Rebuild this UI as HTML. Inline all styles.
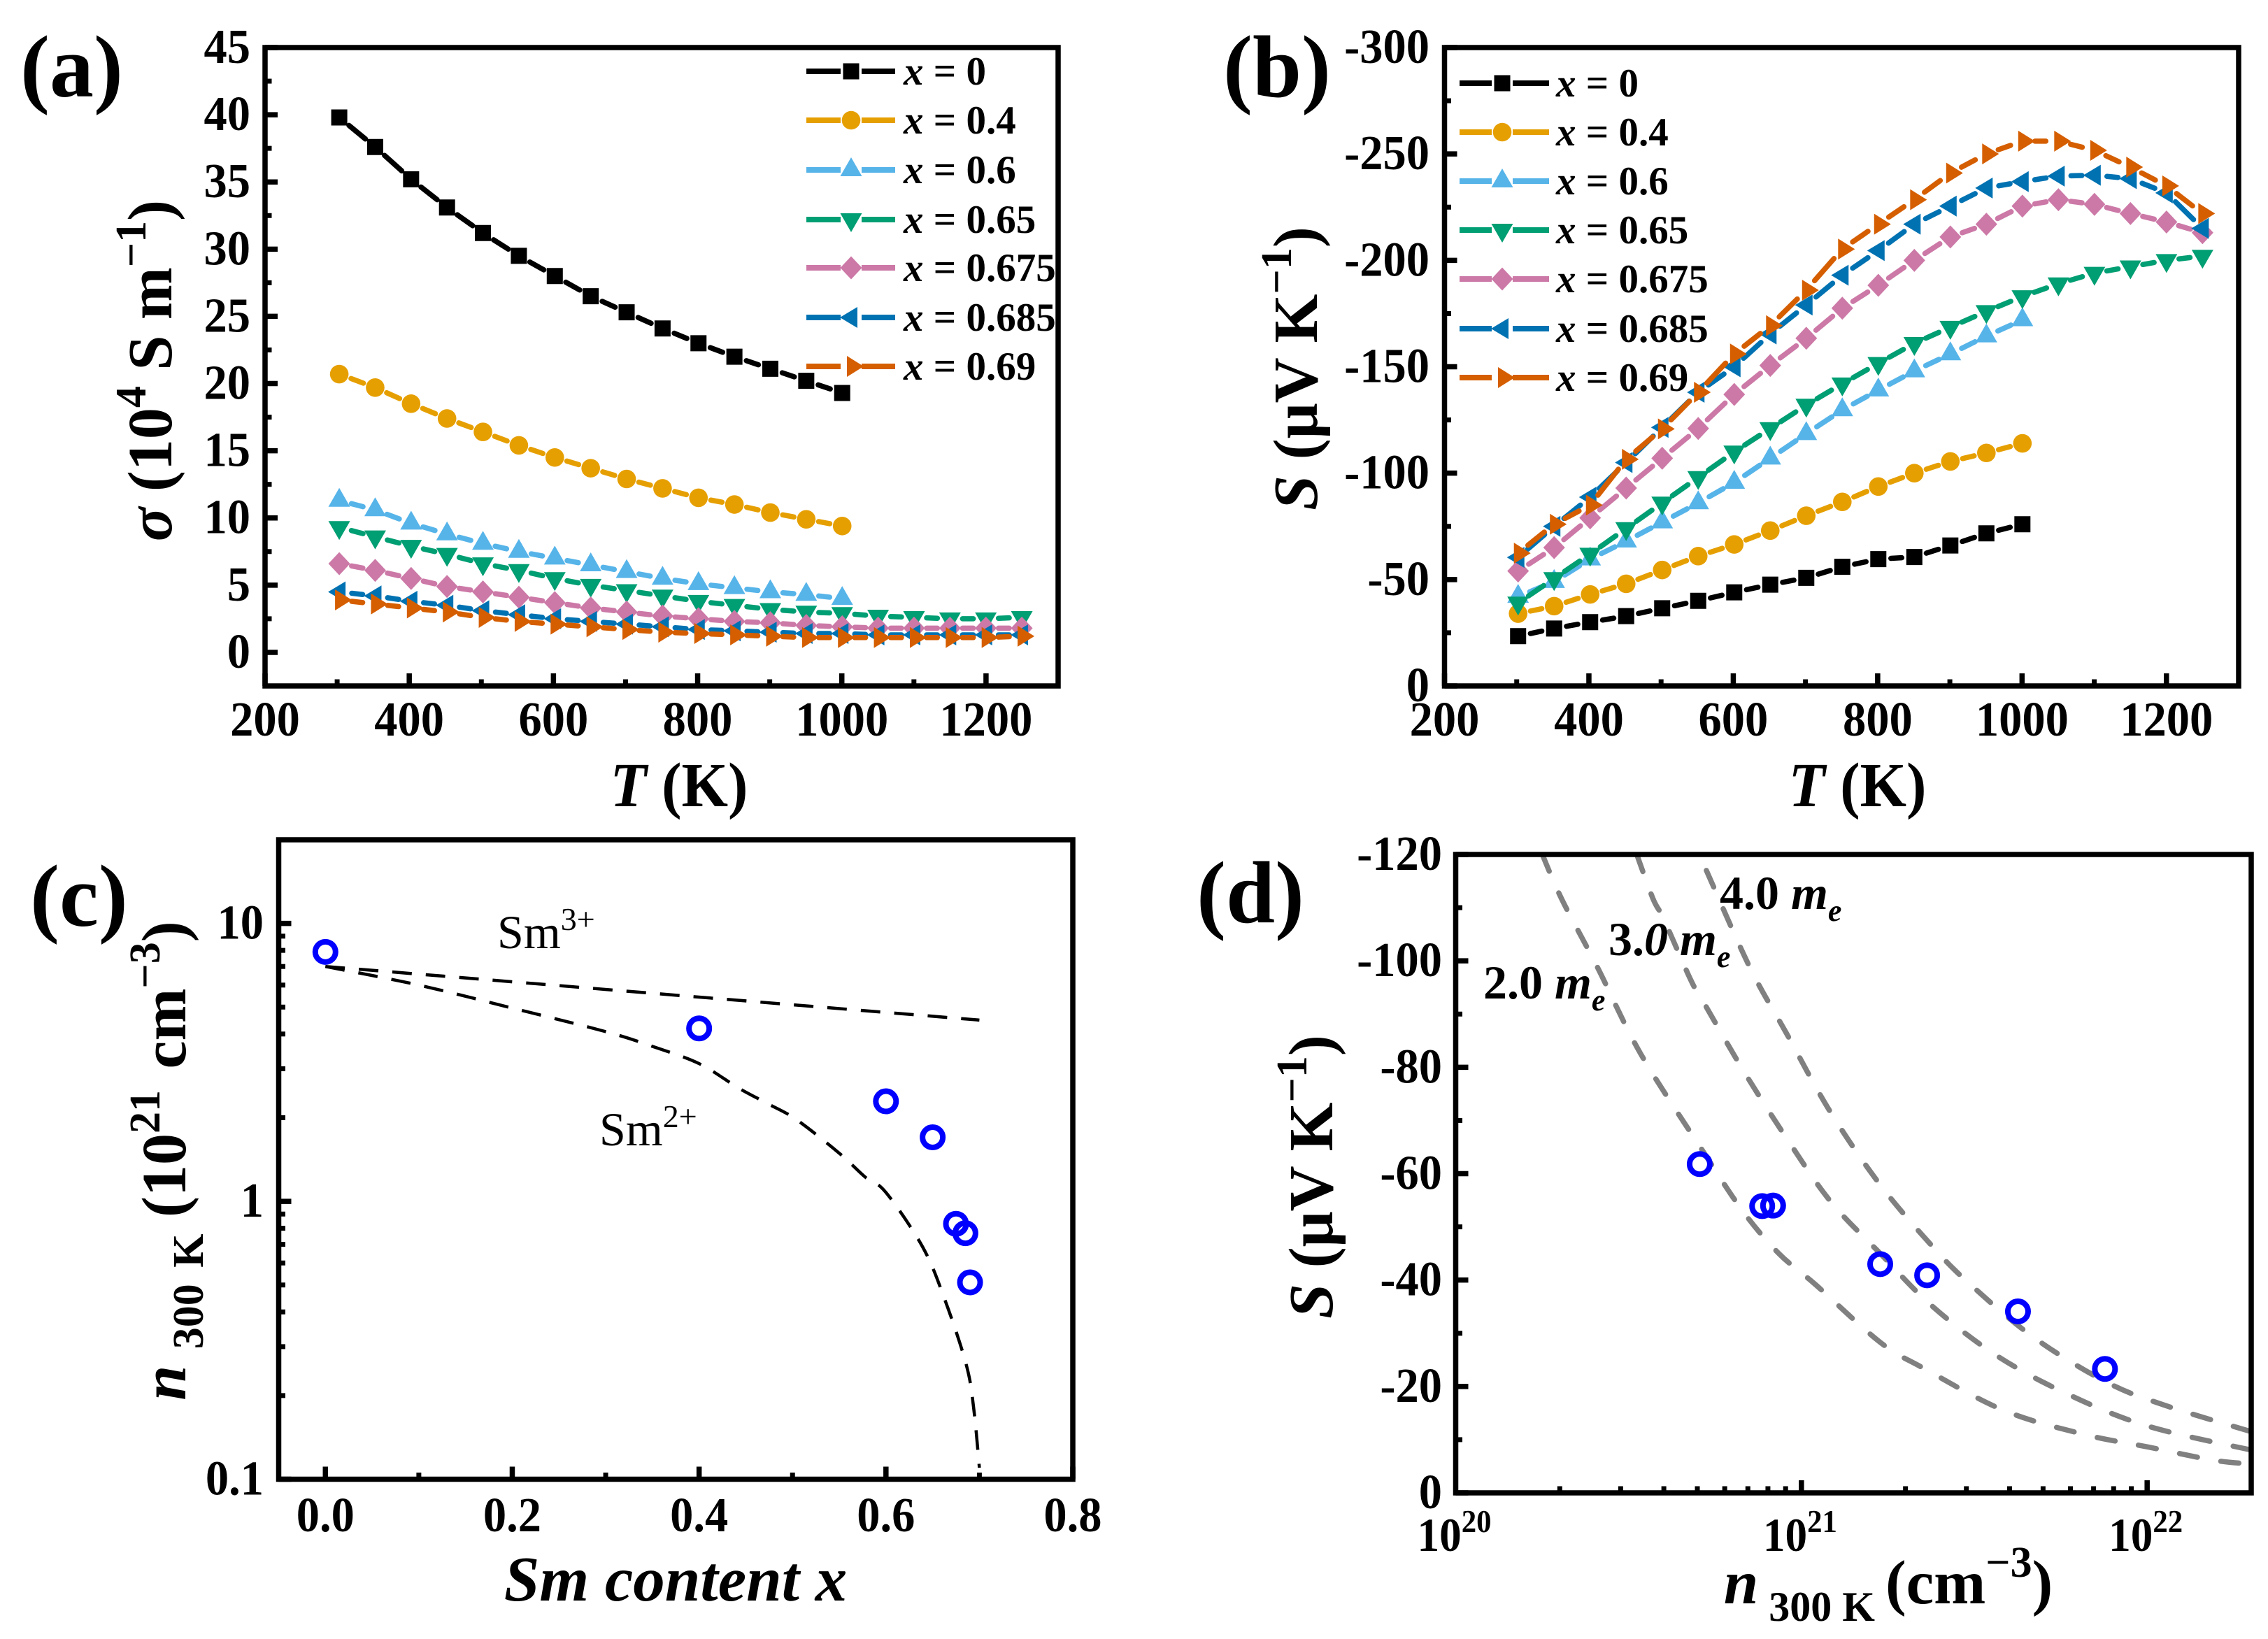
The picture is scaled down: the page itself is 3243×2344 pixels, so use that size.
<!DOCTYPE html>
<html lang="en">
<head>
<meta charset="utf-8">
<title>Sm content transport properties</title>
<style>
html,body{margin:0;padding:0;background:#fff;}
svg{display:block;font-family:"Liberation Serif",serif;font-weight:bold;fill:#000;}
.it{font-style:italic;}
.reg{font-weight:normal;}
</style>
</head>
<body>
<svg id="figure" xmlns="http://www.w3.org/2000/svg" width="3243" height="2344" viewBox="0 0 3243 2344">
  <rect width="3243" height="2344" fill="#fff"/>

  <text x="29" y="138" font-size="126">(a)</text>
  <text x="1749" y="138" font-size="126">(b)</text>
  <text x="43" y="1324" font-size="126">(c)</text>
  <text x="1711" y="1319" font-size="126">(d)</text>

  <text transform="translate(971,1153) scale(.95,1)" font-size="90" text-anchor="middle"><tspan class="it">T</tspan> (K)</text>
  <text transform="translate(2656,1153) scale(.95,1)" font-size="90" text-anchor="middle"><tspan class="it">T</tspan> (K)</text>
  <text x="966" y="2289" font-size="91" text-anchor="middle" class="it">Sm content x</text>
  <text x="2700" y="2293" font-size="89" text-anchor="middle"><tspan class="it">n</tspan><tspan font-size="60" dy="25"> 300 K </tspan><tspan dy="-25">(cm</tspan><tspan font-size="62" dy="-38">−3</tspan><tspan dy="38">)</tspan></text>

  <text transform="translate(245,530) rotate(-90)" font-size="90" text-anchor="middle"><tspan class="it">σ</tspan> (10<tspan font-size="62" dy="-37">4</tspan><tspan dy="37"> S m</tspan><tspan font-size="62" dy="-37">−1</tspan><tspan dy="37">)</tspan></text>
  <text transform="translate(1883,527) rotate(-90)" font-size="90" text-anchor="middle"><tspan class="it">S</tspan> (μV K<tspan font-size="62" dy="-37">−1</tspan><tspan dy="37">)</tspan></text>
  <text transform="translate(265,1660) rotate(-90)" font-size="90" text-anchor="middle" word-spacing="8"><tspan class="it">n</tspan><tspan font-size="62" dy="25"> 300 K </tspan><tspan dy="-25">(10</tspan><tspan font-size="62" dy="-37">21</tspan><tspan dy="37"> cm</tspan><tspan font-size="62" dy="-37">−3</tspan><tspan dy="37">)</tspan></text>
  <text transform="translate(1905,1683) rotate(-90)" font-size="90" text-anchor="middle"><tspan class="it">S</tspan> (μV K<tspan font-size="62" dy="-37">−1</tspan><tspan dy="37">)</tspan></text>

  <text x="711" y="1356" font-size="68" class="reg">Sm<tspan font-size="46" dy="-26">3+</tspan></text>
  <text x="857" y="1638" font-size="68" class="reg">Sm<tspan font-size="46" dy="-26">2+</tspan></text>
</svg>

<script>
// ---------- panel (a) and (b) shared temperatures ----------
const tempK = [300,350,400,450,500,550,600,650,700,750,800,850,900,950,1000,1050,1100,1150,1200,1250];
const compositionLabels = ['0','0.4','0.6','0.65','0.675','0.685','0.69'];

// ---------- panel (a): conductivity, 10^4 S/m ----------
const sigmaX0    = [39.8,37.6,35.2,33.1,31.2,29.5,28,26.5,25.3,24.1,23,22,21.1,20.2,19.3];
const sigmaX04   = [20.7,19.7,18.5,17.4,16.4,15.4,14.5,13.7,12.9,12.2,11.5,11,10.4,9.9,9.4];
const sigmaX06   = [11.3,10.6,9.6,8.8,8.1,7.5,7,6.5,6,5.5,5.1,4.8,4.5,4.3,4.0];
const sigmaX065  = [9.3,8.6,7.9,7.3,6.6,6.1,5.5,5,4.6,4.2,3.8,3.5,3.2,3.0,2.9,2.7,2.6,2.5,2.5,2.6];
const sigmaX0675 = [6.6,6.1,5.5,4.9,4.5,4.1,3.7,3.3,3.0,2.7,2.5,2.3,2.2,2.0,1.9,1.8,1.8,1.8,1.8,1.8];
const sigmaX0685 = [4.5,4.2,3.8,3.5,3.1,2.8,2.5,2.3,2.1,1.9,1.7,1.6,1.5,1.4,1.4,1.3,1.3,1.3,1.3,1.3];
const sigmaX069  = [3.9,3.6,3.3,3.0,2.6,2.3,2.1,1.9,1.7,1.5,1.4,1.3,1.2,1.1,1.1,1.1,1.1,1.1,1.1,1.2];
const sigmaTicks = [0,5,10,15,20,25,30,35,40,45];
const tempTicks  = [200,400,600,800,1000,1200];

// ---------- panel (b): Seebeck, uV/K ----------
const seebeckX0    = [-23.4,-27,-30,-32.8,-36.5,-40,-44,-47.6,-50.8,-56,-59.6,-60.6,-66,-71.7,-76];
const seebeckX04   = [-34,-37.5,-43,-48,-54.5,-61,-66.5,-73,-80,-86.5,-93.7,-100,-105.5,-109.5,-114];
const seebeckX06   = [-42,-49,-59.6,-68,-77,-86,-95.6,-107,-118.5,-129.7,-139,-148,-156,-164.4,-172];
const seebeckX065  = [-39,-50.5,-62,-74,-86,-98,-110,-121,-132,-142,-151.6,-161,-168.6,-176,-183,-189,-194,-197,-200,-202];
const seebeckX0675 = [-54,-65,-79,-93,-107,-121,-137,-150.6,-163.4,-177.5,-188.3,-200,-211,-217,-225.5,-228.5,-226.3,-222,-218,-213];
const seebeckX0685 = [-60.4,-75,-88.7,-105,-121.5,-138,-150,-165.4,-179,-193,-204.6,-217,-225.5,-234,-237,-239.6,-240,-238.4,-231.7,-215];
const seebeckX069  = [-62.4,-76,-85,-106.5,-120.8,-138,-156,-169.3,-186,-205.3,-217,-228.5,-241,-250,-256,-256,-251.7,-243.8,-235,-222];
const seebeckTicks = [0,-50,-100,-150,-200,-250,-300];

// ---------- panel (c): carrier density vs Sm content ----------
const smContent = [0,0.4,0.6,0.65,0.675,0.685,0.69];
const carrierDensity = [7.9,4.19,2.29,1.70,0.83,0.768,0.511];
const sm3CurveX = [0,0.7];
const sm3CurveN = [7.0,4.49];
const sm2CurveX = [0,0.1,0.2,0.3,0.349,0.4,0.442,0.473,0.504,0.55,0.5775,0.6,0.6395,0.663,0.686,0.694,0.7];
const sm2CurveN = [7.0,6.0,4.96,4.08,3.62,3.13,2.56,2.25,1.97,1.49,1.225,1.076,0.683,0.443,0.258,0.179,0.11];
const contentTicks = [0,0.2,0.4,0.6,0.8];
const densityTicks = [0.1,1,10];

// ---------- panel (d): Pisarenko plot; n in units of 10^20 cm^-3 ----------
const pisarenkoN = [5.08,7.7,8.28,16.9,23.1,42.3,75.5];
const pisarenkoS = [-61.8,-53.9,-54,-43,-40.9,-34.1,-23.3];
const mass2N = [1.78,2.03,2.57,3.43,5.18,6.76,8.6,10.96,16.9,22.6,38.5,65.6,101,157,205];
const mass2S = [-120,-111.5,-98.8,-82.5,-64.3,-53,-45,-39.2,-28.3,-23.4,-15.5,-11,-8.6,-6.1,-5.4];
const mass3N = [3.34,3.72,4.0,4.77,5.13,6.76,9.03,12.1,16.9,23.8,36.7,59.6,101,205];
const mass3S = [-120,-111.7,-107.8,-96.6,-93,-79.6,-66.8,-54.9,-45,-35.2,-25.8,-18.4,-12.5,-7.9];
const mass4N = [5.31,7.09,9.03,12.1,16.9,23.8,30.3,46.8,75.9,112,205];
const mass4S = [-117,-98.8,-86.5,-71.7,-57.9,-46.5,-39.6,-29.3,-20.9,-16.5,-11.3];
const pisarenkoSTicks = [0,-20,-40,-60,-80,-100,-120];

// ---------- drawing helpers ----------
const NS = 'http://www.w3.org/2000/svg';
const svg = document.getElementById('figure');
function make(tag, attrs, parent) {
  const node = document.createElementNS(NS, tag);
  for (const k in attrs) node.setAttribute(k, attrs[k]);
  parent.appendChild(node);
  return node;
}
function linear(d0, d1, r0, r1) { return v => r0 + (v - d0) * (r1 - r0) / (d1 - d0); }
function logarithmic(d0, d1, r0, r1) { return v => r0 + (Math.log10(v) - Math.log10(d0)) * (r1 - r0) / (Math.log10(d1) - Math.log10(d0)); }

function drawTick(parent, x1, y1, x2, y2, w, name) {
  const t = make('line', {x1, y1, x2, y2, stroke: '#000', 'stroke-width': w}, parent);
  
  
}
function xTicks(parent, box, sx, majors, minors, fmt, labelY) {
  majors.forEach(v => {
    drawTick(parent, sx(v), box.b, sx(v), box.b - 18, 7.5, 'x-major-tick');
    if (fmt) {
      const t = make('text', {transform: 'translate(' + sx(v) + ',' + labelY + ') scale(.95,1)', 'font-size': 70, 'text-anchor': 'middle'}, parent);
      
      
      t.textContent = fmt(v);
    }
  });
  minors.forEach(v => drawTick(parent, sx(v), box.b, sx(v), box.b - 9.5, 7, 'x-minor-tick'));
}
function yTicks(parent, box, sy, majors, minors, labelRight) {
  majors.forEach(v => {
    drawTick(parent, box.l, sy(v), box.l + 18, sy(v), 7.5, 'y-major-tick');
    const t = make('text', {transform: 'translate(' + labelRight + ',' + (sy(v) + 22) + ') scale(.95,1)', 'font-size': 70, 'text-anchor': 'end'}, parent);
    
    
    t.textContent = String(v);
  });
  minors.forEach(v => drawTick(parent, box.l, sy(v), box.l + 9.5, sy(v), 7, 'y-minor-tick'));
}
function frame(parent, box) {
  const r = make('rect', {x: box.l, y: box.t, width: box.r - box.l, height: box.b - box.t, fill: 'none', stroke: '#000', 'stroke-width': 7.5}, parent);
  
  
}
function markerPath(kind, x, y) {
  const p = pts => 'M' + pts.map(q => (x + q[0]) + ' ' + (y + q[1])).join('L') + 'Z';
  switch (kind) {
    case 'square': return p([[-11.5,-11.5],[11.5,-11.5],[11.5,11.5],[-11.5,11.5]]);
    case 'up':     return p([[0,-18],[15.5,9],[-15.5,9]]);
    case 'down':   return p([[0,18],[15.5,-9],[-15.5,-9]]);
    case 'diamond':return p([[0,-16.5],[15.5,0],[0,16.5],[-15.5,0]]);
    case 'left':   return p([[-16,0],[9,-15],[9,15]]);
    case 'right':  return p([[18,0],[-6,-15],[-6,15]]);
  }
  return '';
}
function drawMarker(parent, kind, x, y, color) {
  let m;
  if (kind === 'circle') m = make('circle', {cx: x, cy: y, r: 13.3, fill: color}, parent);
  else m = make('path', {d: markerPath(kind, x, y), fill: color}, parent);
  
  
}
function drawSeries(parent, name, xs, ys, sx, sy, color, kind) {
  const g = make('g', {}, parent);
  
  
  const GAP = 18;
  for (let i = 0; i < ys.length - 1; i++) {
    const x1 = sx(xs[i]), y1 = sy(ys[i]), x2 = sx(xs[i + 1]), y2 = sy(ys[i + 1]);
    const dx = x2 - x1, dy = y2 - y1, len = Math.hypot(dx, dy);
    if (len <= 2 * GAP) continue;
    const ux = dx / len, uy = dy / len;
    const seg = make('line', {x1: x1 + ux * GAP, y1: y1 + uy * GAP, x2: x2 - ux * GAP, y2: y2 - uy * GAP, stroke: color, 'stroke-width': 7.5, 'stroke-linecap': 'round'}, g);
    
    
  }
  ys.forEach((v, i) => drawMarker(g, kind, sx(xs[i]), sy(v), color));
}
function drawLegend(parent, name, rows, lineL, markX, lineR, textX) {
  const g = make('g', {}, parent);
  
  
  compositionLabels.forEach((lab, i) => {
    const y = rows[i];
    const s = SERIES_STYLE[i];
    const entry = make('g', {}, g);
    
    
    make('line', {x1: lineL, y1: y, x2: markX - 15, y2: y, stroke: s.color, 'stroke-width': 8}, entry);
    make('line', {x1: markX + 15, y1: y, x2: lineR, y2: y, stroke: s.color, 'stroke-width': 8}, entry);
    drawMarker(entry, s.kind, markX, y, s.color);
    const t = make('text', {x: textX, y: y + 19, 'font-size': 57}, entry);
    const it = make('tspan', {class: 'it'}, t);
    it.textContent = 'x';
    t.appendChild(document.createTextNode(' = ' + lab));
  });
}
function smoothPath(px) {
  let d = 'M' + px[0][0] + ' ' + px[0][1];
  for (let i = 0; i < px.length - 1; i++) {
    const p0 = px[Math.max(0, i - 1)], p1 = px[i], p2 = px[i + 1], p3 = px[Math.min(px.length - 1, i + 2)];
    d += 'C' + (p1[0] + (p2[0] - p0[0]) / 6) + ' ' + (p1[1] + (p2[1] - p0[1]) / 6) + ' ' +
         (p2[0] - (p3[0] - p1[0]) / 6) + ' ' + (p2[1] - (p3[1] - p1[1]) / 6) + ' ' + p2[0] + ' ' + p2[1];
  }
  return d;
}
function drawCurve(parent, name, xs, ys, sx, sy, color, width, dash, cap, clipId) {
  const c = make('path', {d: smoothPath(xs.map((v, i) => [sx(v), sy(ys[i])])), fill: 'none', stroke: color, 'stroke-width': width, 'stroke-dasharray': dash, 'stroke-linecap': cap, 'clip-path': 'url(#' + clipId + ')'}, parent);
  
  
}
function drawRing(parent, x, y) {
  const c = make('circle', {cx: x, cy: y, r: 14.5, fill: 'none', stroke: '#0000FF', 'stroke-width': 8}, parent);
  
  
}
function clip(id, box) {
  const cp = make('clipPath', {id}, svg);
  make('rect', {x: box.l, y: box.t, width: box.r - box.l, height: box.b - box.t}, cp);
}

const SERIES_STYLE = [
  {color:'#000000', kind:'square'},
  {color:'#E69F00', kind:'circle'},
  {color:'#56B4E9', kind:'up'},
  {color:'#009E73', kind:'down'},
  {color:'#CC79A7', kind:'diamond'},
  {color:'#0072B2', kind:'left'},
  {color:'#D55E00', kind:'right'}
];
const SERIES_NAMES = ['x-0','x-0.4','x-0.6','x-0.65','x-0.675','x-0.685','x-0.69'];

// ---------- panel a ----------
const gA = make('g', {}, svg);


const boxA = {l: 379, r: 1513, t: 68, b: 981};
const xA = linear(200, 1300, boxA.l, boxA.r);
const yA = linear(-2.5, 45, boxA.b, boxA.t);
const xAData = linear(300, 1000, xA(300) + 3, xA(1000) + 0.5);
xTicks(gA, boxA, xA, tempTicks, [300,500,700,900,1100], String, 1052);
yTicks(gA, boxA, yA, sigmaTicks, [2.5,7.5,12.5,17.5,22.5,27.5,32.5,37.5,42.5], 358);
[sigmaX0,sigmaX04,sigmaX06,sigmaX065,sigmaX0675,sigmaX0685,sigmaX069].forEach((s, i) =>
  drawSeries(gA, 'sigma-series-' + SERIES_NAMES[i], tempK, s, xAData, yA, SERIES_STYLE[i].color, SERIES_STYLE[i].kind));
frame(gA, boxA);
drawLegend(gA, 'a-legend', [102,172,243,314,383,454,524], 1153, 1217, 1280, 1292);

// ---------- panel b ----------
const gB = make('g', {}, svg);


const boxB = {l: 2065.5, r: 3201, t: 68, b: 981};
const xB = linear(200, 1300, boxB.l, boxB.r);
const yB = linear(0, -300, boxB.b, boxB.t);
const xBData = linear(300, 1000, xB(300) + 2, xB(1000) + 0.5);
xTicks(gB, boxB, xB, tempTicks, [300,500,700,900,1100], String, 1052);
yTicks(gB, boxB, yB, seebeckTicks, [-25,-75,-125,-175,-225,-275], 2044);
[seebeckX0,seebeckX04,seebeckX06,seebeckX065,seebeckX0675,seebeckX0685,seebeckX069].forEach((s, i) =>
  drawSeries(gB, 'seebeck-series-' + SERIES_NAMES[i], tempK, s, xBData, yB, SERIES_STYLE[i].color, SERIES_STYLE[i].kind));
frame(gB, boxB);
drawLegend(gB, 'b-legend', [119,189,259,329,399,470,540], 2087, 2148, 2215, 2225);

// ---------- panel c ----------
const gC = make('g', {}, svg);


const boxC = {l: 398.5, r: 1534, t: 1201, b: 2115.5};
clip('clip-c', boxC);
const xC = linear(-0.05, 0.8, boxC.l, boxC.r);
const yC = logarithmic(0.1, 20, boxC.b, boxC.t);
xTicks(gC, boxC, xC, contentTicks, [0.1,0.3,0.5,0.7], v => v.toFixed(1), 2190);
yTicks(gC, boxC, yC, densityTicks, [0.2,0.3,0.4,0.5,0.6,0.7,0.8,0.9,2,3,4,5,6,7,8,9,20], 377);
drawCurve(gC, 'sm3-curve', sm3CurveX, sm3CurveN, xC, yC, '#000', 4.5, '28 20', 'butt', 'clip-c');
drawCurve(gC, 'sm2-curve', sm2CurveX, sm2CurveN, xC, yC, '#000', 4.5, '28 20', 'butt', 'clip-c');
smContent.forEach((c, i) => drawRing(gC, xC(c), yC(carrierDensity[i])));
frame(gC, boxC);

// ---------- panel d ----------
const gD = make('g', {}, svg);


const boxD = {l: 2081.5, r: 3219, t: 1222, b: 2135};
clip('clip-d', boxD);
const xD = logarithmic(1, 200, boxD.l, boxD.r);
const yD = linear(0, -120, boxD.b, boxD.t);
xTicks(gD, boxD, xD, [10,100], [2,3,4,5,6,7,8,9,20,30,40,50,60,70,80,90,200], null, 0);
yTicks(gD, boxD, yD, pisarenkoSTicks, [-10,-30,-50,-70,-90,-110], 2062);
drawCurve(gD, 'pisarenko-curve-2me', mass2N, mass2S, xD, yD, '#808080', 7.5, '26 34', 'round', 'clip-d');
drawCurve(gD, 'pisarenko-curve-3me', mass3N, mass3S, xD, yD, '#808080', 7.5, '26 34', 'round', 'clip-d');
drawCurve(gD, 'pisarenko-curve-4me', mass4N, mass4S, xD, yD, '#808080', 7.5, '26 34', 'round', 'clip-d');
pisarenkoN.forEach((n, i) => drawRing(gD, xD(n), yD(pisarenkoS[i])));
frame(gD, boxD);
[1,10,100].forEach((n, i) => {
  const t = make('text', {transform: 'translate(' + (xD(n) - 2) + ',2218) scale(.93,1)', 'font-size': 68, 'text-anchor': 'middle'}, gD);
  
  
  t.appendChild(document.createTextNode('10'));
  const sup = make('tspan', {'font-size': 46, dy: -27}, t);
  sup.textContent = String(20 + i);
});

function massLabel(x, y, lead, slanted) {
  const t = make('text', {x, y, 'font-size': 68}, gD);
  
  
  t.appendChild(document.createTextNode(lead));
  const z = make('tspan', slanted ? {class: 'it'} : {}, t);
  z.textContent = '0';
  t.appendChild(document.createTextNode(' '));
  const m = make('tspan', {class: 'it'}, t);
  m.textContent = 'm';
  const e = make('tspan', {class: 'it', 'font-size': 44, dy: 17}, t);
  e.textContent = 'e';
}
massLabel(2121, 1428, '2.', false);
massLabel(2300, 1366, '3.', true);
massLabel(2459, 1300, '4.', false);
</script>
</body>
</html>
